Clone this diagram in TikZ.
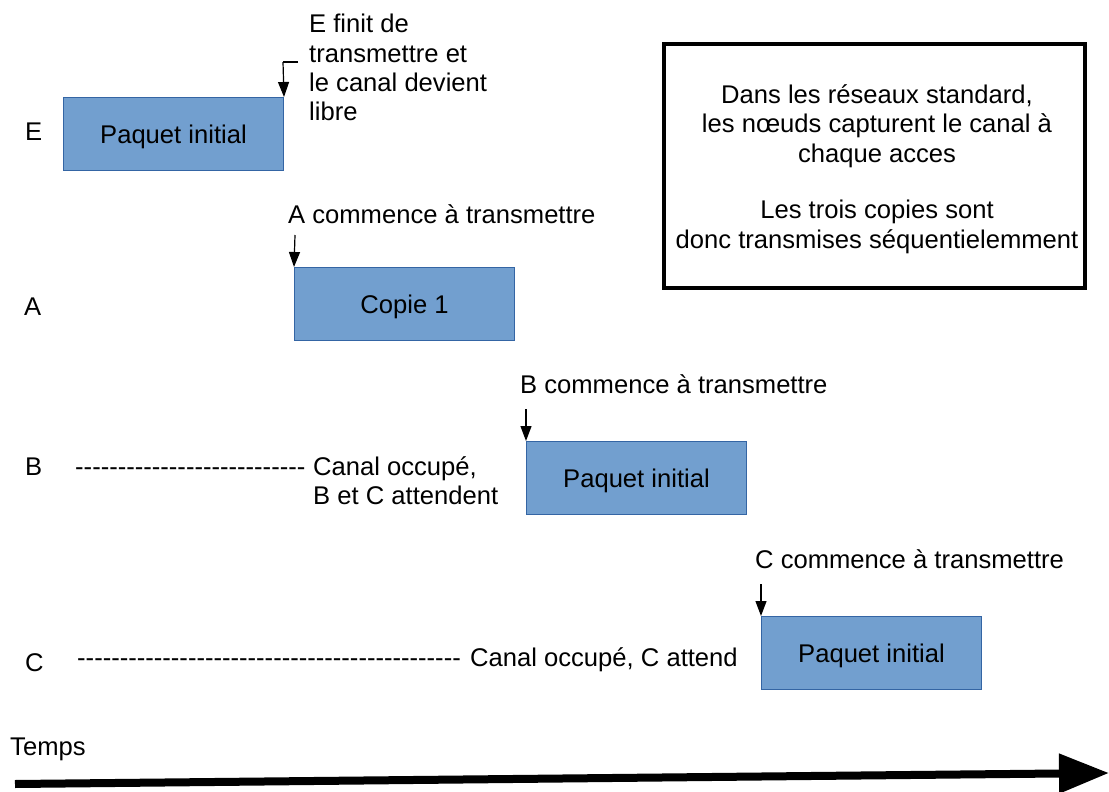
\documentclass[tikz,border=0pt]{standalone}
\usepackage{fontspec}
\setmainfont{Liberation Sans}
\usetikzlibrary{arrows.meta}
\definecolor{pktfill}{HTML}{729FCF}
\definecolor{pktline}{HTML}{3465A4}
% a run of plain hyphens (kerns keep them from turning into dashes)
\newcommand\hyphenrun[1]{\foreach \i in {1,...,#1}{-\kern0pt}}
\begin{document}
\begin{tikzpicture}[x=1pt,y=-1pt,
  every node/.style={font=\fontsize{25.6}{29.4}\selectfont, inner sep=0pt},
  packet/.style={draw=pktline, fill=pktfill, line width=1pt, minimum width=220pt, minimum height=73pt, anchor=north west, text height=18.7pt, text depth=0pt},
  lbl/.style={anchor=base west},
  pointer/.style={line width=1.2pt, -{Triangle[length=15pt,width=11pt]}},
]
\useasboundingbox (0,0) rectangle (1109,792);

% station names
\node[lbl] (nE) at (25,140) {E};
\node[lbl] (nA) at (24,315) {A};
\node[lbl] (nB) at (25,475) {B};
\node[lbl] (nC) at (25,671) {C};

% packets on the time line
\node[packet] (pE) at (63,97) {Paquet initial};
\node[packet] (pA) at (294,267) {Copie 1};
\node[packet] (pB) at (526,441) {Paquet initial};
\node[packet] (pC) at (761,616) {Paquet initial};

% event notes
\node[anchor=north west, align=left] (tE) at (309,14) {E finit de\\transmettre et\\le canal devient\\libre};
\node[lbl] (tA) at (288,223) {A commence à transmettre};
\node[lbl] (tB) at (520,393) {B commence à transmettre};
\node[lbl] (tC) at (755,568) {C commence à transmettre};

\coordinate (kE) at (298,62);
\coordinate (kE2) at (283,62);
\draw[line width=1.2pt] (kE) -- (kE2);
\draw[pointer] (kE2) -- (pE.north east);
\coordinate (kA) at (295,235);
\draw[pointer] (kA) -- (pA.north west);
\coordinate (kB) at (526,409);
\draw[pointer] (kB) -- (pB.north west);
\coordinate (kC) at (761,584);
\draw[pointer] (kC) -- (pC.north west);

% waiting periods
\node[lbl] (wB) at (75,475) {\hyphenrun{27}};
\node[anchor=north west, align=left] (wBt) at (313,456) {Canal occupé,\\B et C attendent};
\node[lbl] (wC) at (77,666) {\hyphenrun{45}};
\node[lbl] (wCt) at (470,666) {Canal occupé, C attend};

% explanation box
\node[draw, line width=3.5pt, minimum width=421pt, minimum height=244pt] (info) at (874.5,166) {};
\node[align=center] (infot) at (877,169) {Dans les réseaux standard,\\ les nœuds capturent le canal à\\chaque acces\\[27pt]Les trois copies sont\\donc transmises séquentielemment};

% time axis
\node[lbl] (tT) at (10,755) {Temps};
\coordinate (t0) at (15,784);
\coordinate (t1) at (1109,773);
\draw[line width=8pt, -{Triangle[length=50pt,width=38pt]}] (t0) -- (t1);
\end{tikzpicture}
\end{document}
